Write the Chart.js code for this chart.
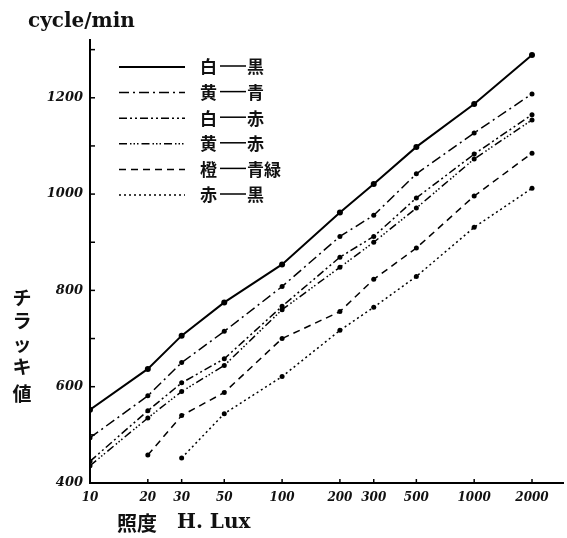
<!DOCTYPE html>
<html>
<head>
<meta charset="utf-8">
<script src="https://cdn.jsdelivr.net/npm/chart.js@4"></script>
<style>
  body { margin: 0; background: #fff; }
</style>
</head>
<body>
<canvas id="flicker-chart" width="567" height="538"></canvas>
<script>
// illuminance (lux) on a log axis
lux = [10, 20, 30, 50, 100, 200, 300, 500, 1000, 2000]
xTickLabels = ["10", "20", "30", "50", "100", "200", "300", "500", "1000", "2000"]

// flicker values (cycle/min), null where no point
whiteBlack  = [552, 637, 706, 775, 854, 962, 1021, 1098, 1187, 1289]
yellowBlue  = [494, 581, 650, 715, 808, 912, 956, 1042, 1127, 1208]
whiteRed    = [445, 550, 608, 658, 767, 869, 912, 992, 1083, 1165]
yellowRed   = [436, 535, 590, 644, 760, 848, 900, 971, 1073, 1154]
orangeGreen = [null, 458, 540, 588, 700, 756, 823, 888, 996, 1085]
redBlack    = [null, null, 452, 544, 621, 717, 765, 829, 931, 1012]

seriesNames = ["白—黒", "黄—青", "白—赤", "黄—赤", "橙—青緑", "赤—黒"]
seriesValues = [whiteBlack, yellowBlue, whiteRed, yellowRed, orangeGreen, redBlack]
dashes = [[], [10, 4, 2, 4], [8, 3, 2, 3, 2, 3], [8, 3, 1.5, 2, 1.5, 2, 1.5, 3], [7, 5], [2, 3]]

function toPoints(values) {
    var pts = [];
    for (var i = 0; i < lux.length; i++) {
        if (values[i] !== null) pts.push({x: lux[i], y: values[i]});
    }
    return pts;
}

var datasets = [];
for (var i = 0; i < seriesNames.length; i++) {
    datasets.push({
        label: seriesNames[i],
        data: toPoints(seriesValues[i]),
        borderColor: "#000",
        backgroundColor: "#000",
        borderWidth: i == 0 ? 2 : 1.5,
        borderDash: dashes[i],
        pointRadius: i == 0 ? 3 : 2.5,
        pointBorderWidth: 0,
        pointBackgroundColor: "#000",
        tension: 0,
        fill: false
    });
}

// inward tick marks, axis titles and the hand-made legend
const decorations = {
    id: "decorations",
    afterDraw(chart) {
        const ctx = chart.ctx;
        const xs = chart.scales.x, ys = chart.scales.y;
        const area = chart.chartArea;
        ctx.save();
        ctx.strokeStyle = "#000";
        ctx.lineWidth = 1.5;
        ys.ticks.forEach(t => {
            const py = ys.getPixelForValue(t.value);
            ctx.beginPath(); ctx.moveTo(area.left, py); ctx.lineTo(area.left + 5, py); ctx.stroke();
        });
        xs.ticks.forEach(t => {
            const px = xs.getPixelForValue(t.value);
            ctx.beginPath(); ctx.moveTo(px, area.bottom); ctx.lineTo(px, area.bottom - 4); ctx.stroke();
        });

        ctx.fillStyle = "#111";
        ctx.textBaseline = "alphabetic";
        ctx.font = 'bold 20px "DejaVu Serif"';
        ctx.fillText("cycle/min", 28, 27);

        ctx.font = 'bold 19px "Noto Sans CJK JP"';
        ctx.textAlign = "center";
        ctx.textBaseline = "middle";
        const yTitle = "チラッキ値";
        const yTitleY = [298, 321, 344, 367, 394];
        for (let k = 0; k < yTitle.length; k++) ctx.fillText(yTitle[k], 22, yTitleY[k]);

        ctx.textAlign = "left";
        ctx.font = 'bold 20px "Noto Sans CJK JP"';
        ctx.fillText("照度", 117, 523);
        ctx.font = 'bold 20px "DejaVu Serif"';
        ctx.fillText("H. Lux", 177, 523);

        // legend
        ctx.font = 'bold 17px "Noto Sans CJK JP"';
        chart.data.datasets.forEach((ds, k) => {
            const ly = 67 + k * 25.6;
            ctx.setLineDash(ds.borderDash);
            ctx.lineWidth = ds.borderWidth;
            ctx.beginPath(); ctx.moveTo(119, ly); ctx.lineTo(185, ly); ctx.stroke();
            ctx.setLineDash([]);
            const parts = ds.label.split("—");
            ctx.fillText(parts[0], 200, ly);
            ctx.lineWidth = 1.5;
            ctx.beginPath(); ctx.moveTo(220, ly - 1); ctx.lineTo(246, ly - 1); ctx.stroke();
            ctx.fillText(parts[1], 247, ly);
        });
        ctx.restore();
    }
};

let lineChart = new Chart(document.getElementById("flicker-chart"), {
    type: "line",
    data: { datasets: datasets },
    plugins: [decorations],
    options: {
        responsive: false,
        animation: false,
        layout: { padding: { top: 40, right: 2, bottom: 0, left: 0 } },
        plugins: { legend: { display: false }, tooltip: { enabled: false } },
        scales: {
            x: {
                type: "logarithmic",
                min: 10,
                max: 2900,
                afterBuildTicks: axis => { axis.ticks = lux.map(v => ({value: v})); },
                afterFit: axis => { axis.height = 55; },
                ticks: {
                    autoSkip: false,
                    maxRotation: 0,
                    padding: 8,
                    color: "#111",
                    font: { family: "DejaVu Serif", size: 12, style: "italic", weight: "bold" },
                    callback: (v, idx) => xTickLabels[idx]
                },
                grid: { display: true, drawOnChartArea: false, drawTicks: false },
                border: { display: true, color: "#000", width: 2 }
            },
            y: {
                min: 400,
                max: 1320,
                afterFit: axis => { axis.width = 90; },
                ticks: {
                    stepSize: 100,
                    includeBounds: false,
                    padding: 7,
                    color: "#111",
                    font: { family: "DejaVu Serif", size: 13, style: "italic", weight: "bold" },
                    callback: v => (v % 200 == 0 && v <= 1200) ? String(v) : ""
                },
                grid: { display: true, drawOnChartArea: false, drawTicks: false },
                border: { display: true, color: "#000", width: 2 }
            }
        }
    }
});
</script>
</body>
</html>
